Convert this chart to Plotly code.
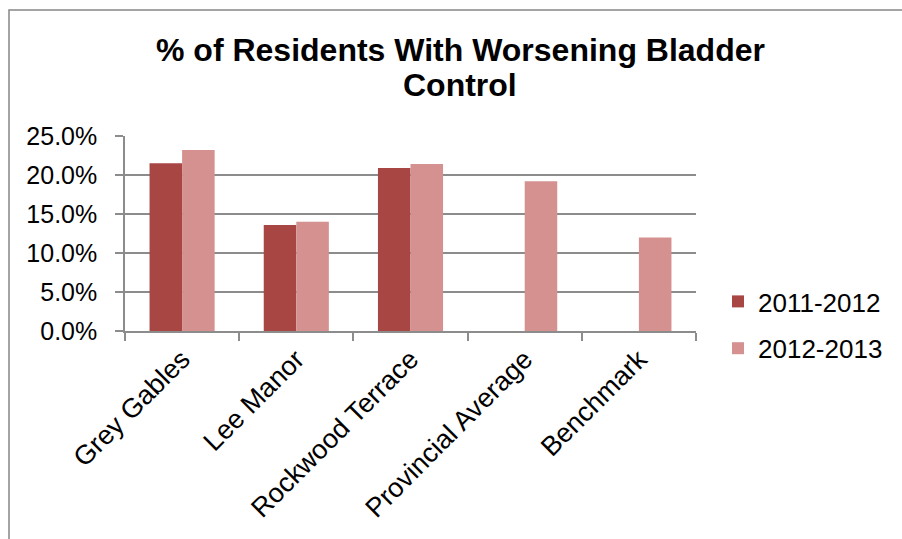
import plotly.graph_objects as go

# Data
categories = ["Grey Gables", "Lee Manor", "Rockwood Terrace", "Provincial Average", "Benchmark"]
series_names = ["2011-2012", "2012-2013"]
values_2011_2012 = [0.215, 0.136, 0.209, None, None]
values_2012_2013 = [0.232, 0.140, 0.214, 0.192, 0.120]
y_ticks = [0.0, 0.05, 0.10, 0.15, 0.20, 0.25]

colors = ["#A84644", "#D49190"]
FONT = "Liberation Sans, Arial, sans-serif"

# Canvas geometry (pixels)
W, H = 902, 539
L, R, T, B = 125, 696, 136, 331
pw, ph = R - L, B - T


def px_x(px):
    return (px - L) / pw


def px_y(py):
    return (B - py) / ph


fig = go.Figure()
for name, vals, col in zip(series_names, [values_2011_2012, values_2012_2013], colors):
    fig.add_trace(go.Bar(
        x=categories, y=vals, name=name,
        marker=dict(color=col, line=dict(width=0)),
        legendgroup=name,
    ))

fig.update_layout(
    width=W, height=H,
    margin=dict(l=L, r=W - R, t=T, b=H - B, pad=0),
    paper_bgcolor="white", plot_bgcolor="white",
    barmode="group", bargap=0.43, bargroupgap=0,
    font=dict(family=FONT, color="black"),
    showlegend=True,
    legend=dict(
        x=px_x(718), xanchor="left",
        y=px_y(325), yanchor="middle",
        font=dict(size=26, family=FONT, color="black"),
        tracegroupgap=10,
        bgcolor="rgba(0,0,0,0)",
    ),
    xaxis=dict(
        type="category",
        tickangle=-45,
        tickfont=dict(size=27, family=FONT, color="black"),
        showline=True, linecolor="#8C8C8C", linewidth=1.5,
        ticks="outside", ticklen=8, tickcolor="#8C8C8C", tickwidth=1.5,
        tickson="boundaries",
        showgrid=False,
    ),
    yaxis=dict(
        range=[0, 0.25],
        tickvals=y_ticks,
        tickformat=".1%",
        tickfont=dict(size=25, family=FONT, color="black"),
        showline=True, linecolor="#8C8C8C", linewidth=1.5,
        ticks="outside", ticklen=8, tickcolor="#8C8C8C", tickwidth=1.5,
        ticklabelstandoff=13,
        showgrid=True, gridcolor="#8C8C8C", gridwidth=1.5,
        zeroline=False,
    ),
    shapes=[dict(
        type="rect", xref="paper", yref="paper",
        x0=px_x(9), x1=px_x(W + 20), y0=px_y(H + 20), y1=px_y(10),
        line=dict(color="#868686", width=1.5), fillcolor="rgba(0,0,0,0)",
        layer="below",
    )],
    annotations=[
        dict(text="<b>% of Residents With Worsening Bladder</b>", xref="paper", yref="paper",
             x=px_x(460), y=px_y(50), xanchor="center", yanchor="middle",
             showarrow=False, font=dict(size=32, family=FONT, color="black")),
        dict(text="<b>Control</b>", xref="paper", yref="paper",
             x=px_x(460), y=px_y(85), xanchor="center", yanchor="middle",
             showarrow=False, font=dict(size=32, family=FONT, color="black")),
    ],
)

fig.write_html("out.html")
